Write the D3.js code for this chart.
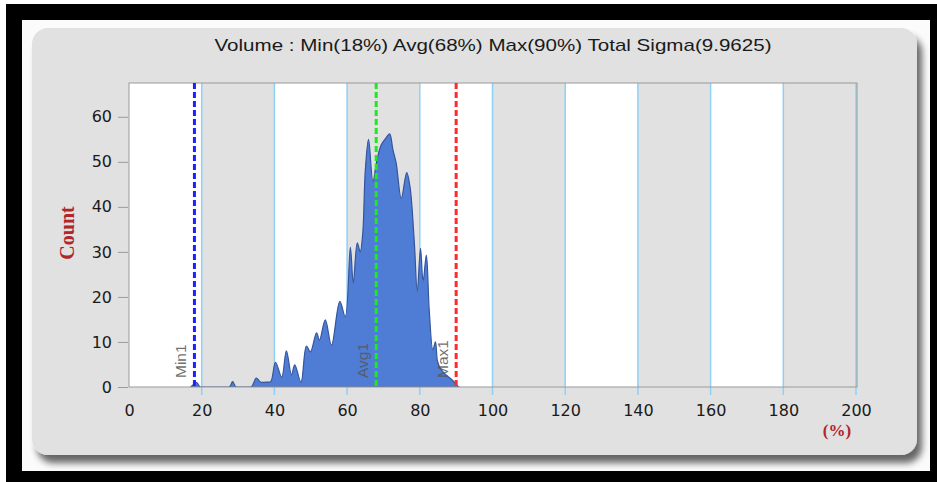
<!DOCTYPE html>
<html>
<head>
<meta charset="utf-8">
<script src="https://cdn.jsdelivr.net/npm/d3@7/dist/d3.min.js"></script>
<style>
  body { margin: 0; background: #fff; }
  svg { display: block; }
</style>
</head>
<body>
<div id="chart"></div>
<script>
// histogram of volume (%) -> count
const binPct = [17, 18.6, 19.6, 27.6, 28.5, 29.5, 33.6, 35, 36.2, 38, 39, 40.3, 42, 43.3, 44.7, 45.6, 47.3,
  48.8, 49.9, 51.6, 52.4, 54, 55.7, 58, 59.5, 60.9, 61.7, 62.8, 63.6, 64.3, 65, 65.9, 67.1, 68.2,
  69.4, 70.7, 71.7, 72.6, 73.5, 74.9, 76.4, 77.3, 78.5, 79.3, 80.2, 80.9, 81.8, 82.6, 83.6, 84.3,
  84.9, 85.9, 87.5, 89, 90.3, 90.8];
const counts = [0, 1, 0, 0, 1.2, 0, 0, 2, 1.1, 1.1, 1.2, 5.5, 2.2, 8, 2.7, 4.9, 1.1,
  9.1, 7.8, 12, 10.4, 14.9, 9.3, 19, 15.6, 31, 23, 32, 30, 34, 48, 55, 45.6, 50.4,
  53.8, 55.3, 56.2, 52.7, 49.7, 41.9, 47.6, 44.5, 32, 21.2, 30.8, 23.4, 29.3, 17, 8.2, 10,
  5.6, 3.8, 2.5, 1.5, 0.3, 0];

const xTicks = [0, 20, 40, 60, 80, 100, 120, 140, 160, 180, 200];
const yTicks = [0, 10, 20, 30, 40, 50, 60];

const markerNames = ["Min1", "Avg1", "Max1"];
const markerValues = [18, 68, 90];
const markerColors = ["#1f1fff", "#1ee81e", "#ff2a2a"];

const title = "Volume : Min(18%) Avg(68%) Max(90%)  Total Sigma(9.9625)";

const W = 937, H = 482;
const plot = { left: 129, right: 856, top: 83, bottom: 387 };

const svg = d3.select("#chart").append("svg").attr("width", W).attr("height", H);

// black frame
svg.append("rect").attr("x", 6).attr("y", 4).attr("width", 931).attr("height", 478).attr("fill", "#000");
svg.append("rect").attr("x", 22).attr("y", 20).attr("width", 908).attr("height", 451).attr("fill", "#fbfbfb");

// panel with shadow
const defs = svg.append("defs");
const f = defs.append("filter").attr("id", "shadow").attr("x", "-5%").attr("y", "-5%").attr("width", "115%").attr("height", "120%");
f.append("feGaussianBlur").attr("in", "SourceAlpha").attr("stdDeviation", 3.5);
f.append("feOffset").attr("dx", 5).attr("dy", 8).attr("result", "ob");
f.append("feComponentTransfer").append("feFuncA").attr("type", "linear").attr("slope", 0.6);
const fm = f.append("feMerge");
fm.append("feMergeNode");
fm.append("feMergeNode").attr("in", "SourceGraphic");

svg.append("rect").attr("x", 32).attr("y", 28).attr("width", 885).attr("height", 427)
  .attr("rx", 16).attr("fill", "#e1e1e1").attr("filter", "url(#shadow)");

svg.append("text").attr("x", 493).attr("y", 51).attr("text-anchor", "middle")
  .attr("font-family", "Liberation Sans, Arial, sans-serif").attr("font-size", 17)
  .attr("fill", "#1a1a1a").attr("textLength", 557).attr("lengthAdjust", "spacingAndGlyphs")
  .text(title);

const x = d3.scaleLinear().domain([0, 200]).range([plot.left, plot.right]);
const y = d3.scaleLinear().domain([0, 67.5]).range([plot.bottom, plot.top]);

// alternating bands
svg.append("g").selectAll("rect").data(xTicks.slice(0, -1)).join("rect")
  .attr("x", d => x(d)).attr("y", plot.top)
  .attr("width", d => x(d + 20) - x(d)).attr("height", plot.bottom - plot.top)
  .attr("fill", (d, i) => i % 2 ? "#e1e1e1" : "#ffffff");

defs.append("clipPath").attr("id", "clip").append("rect")
  .attr("x", plot.left).attr("y", plot.top)
  .attr("width", plot.right - plot.left).attr("height", plot.bottom - plot.top);

// vertical grid lines (light blue), also the x tick marks
svg.append("g").selectAll("line").data(xTicks.slice(1)).join("line")
  .attr("x1", d => x(d)).attr("x2", d => x(d))
  .attr("y1", plot.top).attr("y2", plot.bottom + 8)
  .attr("stroke", "#8fd0f7").attr("stroke-width", 1.5);

// area
const data = binPct.map((p, i) => ({ p, c: counts[i] }));
const area = d3.area()
  .curve(d3.curveCatmullRom.alpha(0.5))
  .x(d => x(d.p)).y0(y(0)).y1(d => y(d.c));
svg.append("path").datum(data).attr("clip-path", "url(#clip)")
  .attr("d", area).attr("fill", "#4f7dd6").attr("stroke", "#34559a").attr("stroke-width", 1.2);

// plot border
svg.append("rect").attr("x", plot.left).attr("y", plot.top)
  .attr("width", plot.right - plot.left + 1).attr("height", plot.bottom - plot.top)
  .attr("fill", "none").attr("stroke", "#9a9a9a").attr("stroke-width", 1);

// marker lines
markerValues.forEach((v, i) => {
  svg.append("line").attr("x1", x(v)).attr("x2", x(v)).attr("y1", plot.top).attr("y2", plot.bottom)
    .attr("stroke", markerColors[i]).attr("stroke-width", 3).attr("stroke-dasharray", "6,3");
  svg.append("text")
    .attr("transform", "translate(" + (x(v) - 8) + "," + (plot.bottom - 9) + ") rotate(-90)")
    .attr("font-family", "Liberation Sans, Arial, sans-serif").attr("font-size", 15.5)
    .attr("fill", "#555").attr("fill-opacity", 0.85)
    .text(markerNames[i]);
});

// y axis
const yAxis = d3.axisLeft(y).tickValues(yTicks).tickSize(10).tickPadding(6);
const yg = svg.append("g").attr("transform", "translate(" + (plot.left - 1) + ",0)").call(yAxis);
yg.select(".domain").remove();
yg.selectAll(".tick line").attr("stroke", "#9a9a9a");
yg.selectAll(".tick text").attr("font-family", "DejaVu Sans, Verdana, sans-serif")
  .attr("font-size", 16).attr("fill", "#1a1a1a");

// x axis labels
const xAxis = d3.axisBottom(x).tickValues(xTicks).tickSize(0).tickPadding(18);
const xg = svg.append("g").attr("transform", "translate(0," + plot.bottom + ")").call(xAxis);
xg.select(".domain").remove();
xg.selectAll(".tick text").attr("font-family", "DejaVu Sans, Verdana, sans-serif")
  .attr("font-size", 16).attr("fill", "#1a1a1a");

// axis titles
svg.append("text").attr("transform", "translate(74,233) rotate(-90)")
  .attr("text-anchor", "middle").attr("font-family", "Liberation Serif, Times New Roman, serif")
  .attr("font-weight", "bold").attr("font-size", 20).attr("fill", "#b0262a").text("Count");
svg.append("text").attr("x", 837).attr("y", 436).attr("text-anchor", "middle")
  .attr("font-family", "Liberation Serif, Times New Roman, serif")
  .attr("font-weight", "bold").attr("font-size", 17).attr("fill", "#b0262a").text("(%)");
</script>
</body>
</html>
